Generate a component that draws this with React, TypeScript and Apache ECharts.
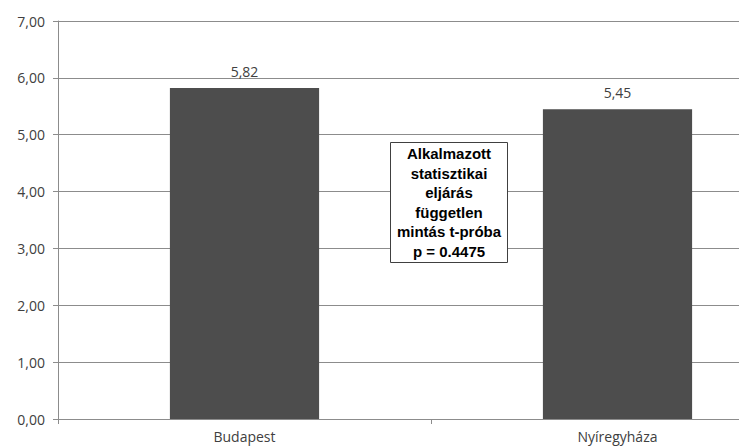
import React, { useEffect, useRef } from "react";
import * as echarts from "echarts";

const categories = ["Budapest", "Nyíregyháza"];
const values = [5.82, 5.45];
const annotationLines = ["Alkalmazott", "statisztikai", "eljárás", "független", "mintás t-próba", "p = 0.4475"];

const fmt = (v: number) => v.toFixed(2).replace(".", ",");

export default function App() {
  const ref = useRef<HTMLDivElement>(null);
  useEffect(() => {
    if (!ref.current) return;
    const chart = echarts.init(ref.current, undefined, { renderer: "svg" });
    chart.setOption({
      animation: false,
      grid: { left: 58, top: 21, right: 6, bottom: 29, containLabel: false },
      xAxis: {
        type: "category",
        data: categories,
        axisLine: { lineStyle: { color: "#8c8c8c", width: 1 } },
        axisTick: { show: true, length: 5, lineStyle: { color: "#8c8c8c" } },
        axisLabel: { color: "#404040", fontSize: 14, fontFamily: "Open Sans", margin: 10 },
      },
      yAxis: {
        type: "value",
        min: 0,
        max: 7,
        interval: 1,
        axisLine: { show: true, lineStyle: { color: "#8c8c8c", width: 1 } },
        axisTick: { show: true, length: 5, lineStyle: { color: "#8c8c8c" } },
        splitLine: { show: true, lineStyle: { color: "#8c8c8c", width: 1 } },
        axisLabel: { color: "#404040", fontSize: 14, fontFamily: "Open Sans", margin: 13, formatter: (v: number) => fmt(v) },
      },
      series: [
        {
          type: "bar",
          data: values,
          barWidth: "40%",
          itemStyle: { color: "#4d4d4d" },
          label: {
            show: true,
            position: "top",
            distance: 10,
            color: "#404040",
            fontSize: 14,
            fontFamily: "Open Sans",
            formatter: (p: any) => fmt(p.value),
          },
        },
      ],
      graphic: [
        {
          type: "group",
          left: 390,
          top: 142,
          z: 100,
          children: [
            {
              type: "rect",
              z: 100,
              shape: { x: 0, y: 0, width: 117, height: 120 },
              style: { fill: "#ffffff", stroke: "#404040", lineWidth: 1 },
            },
            {
              type: "text",
              z: 101,
              x: 58.5,
              y: 60,
              style: {
                text: annotationLines.join("\n"),
                fill: "#000000",
                font: "bold 15px 'Liberation Sans', Arial, sans-serif",
                lineHeight: 19.5,
                align: "center",
                verticalAlign: "middle",
              },
            },
          ],
        },
      ],
    });
    return () => chart.dispose();
  }, []);
  return (
    <div style={{ width: 739, height: 448, position: "absolute", left: 0, top: 0, overflow: "hidden" }}>
      <div ref={ref} style={{ width: 810, height: 448 }} />
    </div>
  );
}
